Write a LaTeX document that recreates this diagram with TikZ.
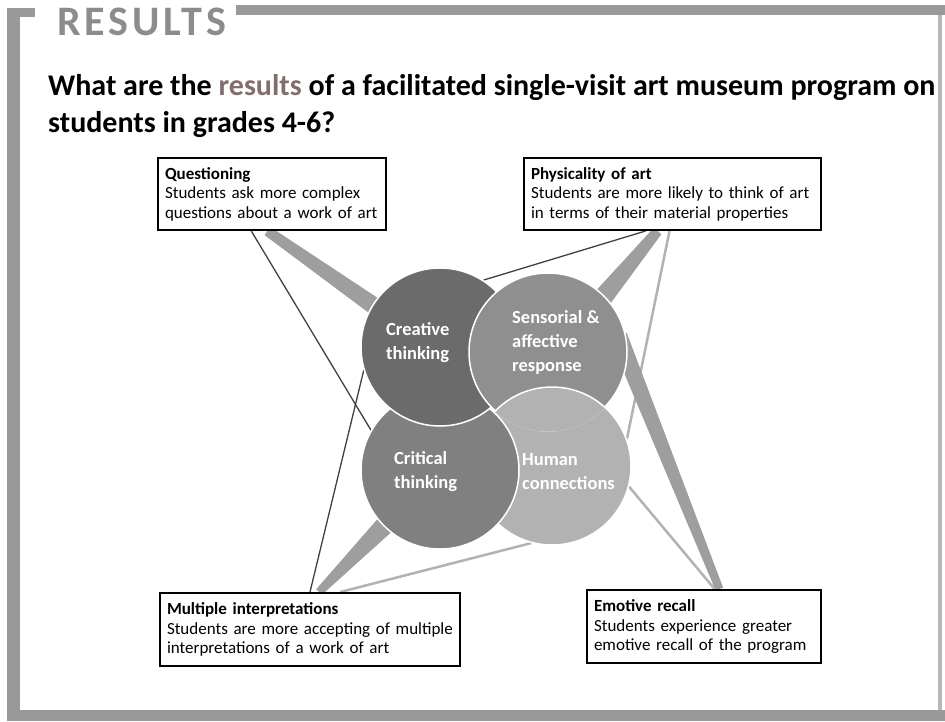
\documentclass[tikz,border=0pt]{standalone}
\usepackage{fontspec}
\setmainfont{Carlito}
\usetikzlibrary{calc,backgrounds}

\definecolor{framegray}{gray}{0.6}
\definecolor{headgray}{gray}{0.55}
\definecolor{resword}{RGB}{130,110,110}
\definecolor{creativegray}{gray}{0.42}
\definecolor{criticalgray}{gray}{0.5}
\definecolor{sensorgray}{gray}{0.56}
\definecolor{humangray}{gray}{0.7}
\definecolor{bandgray}{gray}{0.62}
\definecolor{darklinegray}{gray}{0.25}
\definecolor{lightlinegray}{gray}{0.7}

\tikzset{
    resultbox/.style={draw=black, line width=2pt, fill=white, align=left,
        anchor=north west, inner xsep=7pt, inner ysep=0pt,
        font=\fontsize{17}{19.5}\selectfont},
    venn/.style={circle, draw=white, line width=1.5pt,
        minimum size=158pt, inner sep=0pt},
    vennlabel/.style={text=white, align=left, anchor=west, inner sep=0pt,
        font=\fontsize{18.5}{24}\selectfont\bfseries},
    band/.style={fill=bandgray},
    darkline/.style={draw=darklinegray, line width=1.3pt},
    lightline/.style={draw=lightlinegray, line width=2.5pt},
}

% wedge from a box (narrow) into a circle (wide)
\newcommand{\wedgeband}[4]{%
    \path ($(#1)!1.1!(#2)$) coordinate (bandend);
    \fill [band] ($(#1)!#3!90:(bandend)$) -- ($(bandend)!#4!-90:(#1)$)
        -- ($(bandend)!#4!90:(#1)$) -- ($(#1)!#3!-90:(bandend)$) -- cycle;
}

\begin{document}
\begin{tikzpicture}[x=1pt, y=-1pt]
\useasboundingbox (0,0) rectangle (945,721);

% frame
\fill [framegray] (7,8) rectangle (35,17);
\fill [framegray] (7,8) rectangle (20,721);
\fill [framegray] (236,5) rectangle (945,15);
\fill [framegray!70] (938,15) rectangle (942,710);
\fill [framegray] (7,710) rectangle (945,721);

% heading and question
\node (heading) [anchor=base west, inner sep=0pt, text=headgray,
    font=\fontsize{42}{42}\selectfont\bfseries\addfontfeatures{LetterSpace=9}
] at (57,35) {RESULTS};

\node (title1) [anchor=base west, inner sep=0pt,
    font=\fontsize{30}{37}\selectfont\bfseries
] at (48,95) {What are the \textcolor{resword}{results} of a facilitated single-visit art museum program on};
\node (title2) [anchor=base west, inner sep=0pt,
    font=\fontsize{30}{37}\selectfont\bfseries
] at (48,132) {students in grades 4-6?};

% Venn circles
\node (human) [venn, fill=humangray] at (552,466) {};
\node (critical) [venn, fill=criticalgray] at (440,470) {};
\node (creative) [venn, fill=creativegray] at (440,347) {};
\node (sensorial) [venn, fill=sensorgray] at (548,352) {};
\begin{scope}
    \clip (sensorial.center) circle [radius=79.75pt];
    \draw [white, line width=1.5pt, fill=humangray] (human.center) circle [radius=79pt];
\end{scope}

\node (crelbl) [vennlabel] at (386,343) {Creative\\thinking};
\node (senlbl) [vennlabel] at (512,342) {Sensorial \&\\affective\\response};
\node (critlbl) [vennlabel] at (394,472) {Critical\\thinking};
\node (humlbl) [vennlabel] at (522,472) {Human\\connections};

% result boxes
\node (qbox) [resultbox, text width=214pt, minimum height=72pt] at (157,157)
    {\textbf{Questioning}\\Students ask more complex\\questions about a work of art};
\node (pbox) [resultbox, text width=283pt, minimum height=72pt] at (523,157)
    {\textbf{Physicality of art}\\Students are more likely to think of art\\in terms of their material properties};
\node (mbox) [resultbox, text width=286pt, minimum height=73pt] at (159,592)
    {\textbf{Multiple interpretations}\\Students are more accepting of multiple\\interpretations of a work of art};
\node (ebox) [resultbox, text width=220pt, minimum height=73pt] at (586,589)
    {\textbf{Emotive recall}\\Students experience greater\\emotive recall of the program};

% connectors
\begin{scope}[on background layer]
\coordinate (qa) at ($(qbox.south west)!0.41!(qbox.south east)$);
\coordinate (qb) at ($(qbox.south west)!0.48!(qbox.south east)$);
\coordinate (pa) at ($(pbox.south west)!0.41!(pbox.south east)$);
\coordinate (pb) at ($(pbox.south west)!0.45!(pbox.south east)$);
\coordinate (pc) at ($(pbox.south west)!0.49!(pbox.south east)$);
\coordinate (ma) at ($(mbox.north west)!0.50!(mbox.north east)$);
\coordinate (mb) at ($(mbox.north west)!0.53!(mbox.north east)$);
\coordinate (mc) at ($(mbox.north west)!0.60!(mbox.north east)$);
\coordinate (ea) at ($(ebox.north west)!0.545!(ebox.north east)$);
\coordinate (eb) at ($(ebox.north west)!0.565!(ebox.north east)$);

\draw [darkline] (qa) -- (critical.150);
\wedgeband{qb}{creative.148}{5pt}{9pt}
\draw [darkline] (pa) -- (creative.57);
\wedgeband{pb}{sensorial.45}{5pt}{10pt}
\draw [lightline] (pc) -- (human.20);
\wedgeband{eb}{sensorial.-5}{4pt}{9pt}
\draw [lightline] (ea) -- (human.-15);
\wedgeband{mb}{critical.225}{4pt}{10pt}
\draw [darkline] (ma) -- (creative.197);
\draw [lightline] (mc) -- (human.255);
\end{scope}

\end{tikzpicture}
\end{document}
